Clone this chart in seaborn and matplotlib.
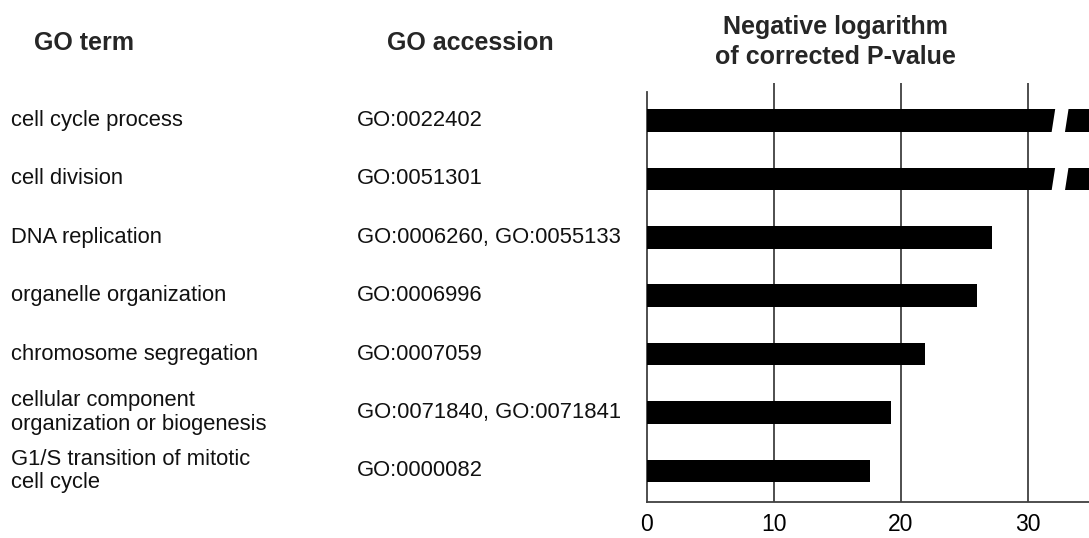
import numpy as np
import pandas as pd
import matplotlib
matplotlib.use("Agg")
import matplotlib.pyplot as plt
import matplotlib.transforms as mtransforms
from matplotlib.patches import Polygon
import seaborn as sns

# ---- data ----
go_terms = [
    "cell cycle process",
    "cell division",
    "DNA replication",
    "organelle organization",
    "chromosome segregation",
    "cellular component\norganization or biogenesis",
    "G1/S transition of mitotic\ncell cycle",
]
go_accessions = [
    "GO:0022402",
    "GO:0051301",
    "GO:0006260, GO:0055133",
    "GO:0006996",
    "GO:0007059",
    "GO:0071840, GO:0071841",
    "GO:0000082",
]
neg_log_p = [40.0, 40.0, 27.2, 26.0, 21.9, 19.2, 17.6]  # first two are off-scale (broken bars)
broken = [True, True, False, False, False, False, False]
x_ticks = [0, 10, 20, 30]

header_term = "GO term"
header_acc = "GO accession"
header_val = "Negative logarithm\nof corrected P-value"

df = pd.DataFrame({"term": go_terms, "acc": go_accessions, "value": neg_log_p})

# ---- style ----
sns.set_style("white")
plt.rcParams["font.family"] = ["Liberation Sans", "DejaVu Sans"]

W, H = 1089, 538
fig = plt.figure(figsize=(W / 100, H / 100), dpi=100)

ax_left, ax_right = 646.7, 1089.0
ax_top, ax_bottom = 83.0, 502.3
ax = fig.add_axes([ax_left / W, 1 - ax_bottom / H, (ax_right - ax_left) / W, (ax_bottom - ax_top) / H])

sns.barplot(data=df, y="term", x="value", orient="h", color="black",
            width=0.39, ax=ax, saturation=1, edgecolor="none", zorder=3)

px_per_unit = 12.7
ax.set_xlim(0, (ax_right - ax_left) / px_per_unit)
row_px = 58.4
first_center = 120.5
ax.set_ylim((ax_bottom - first_center) / row_px, (ax_top - first_center) / row_px)

ax.set_xticks(x_ticks)
ax.set_xticklabels([str(t) for t in x_ticks], fontsize=16.5)
ax.tick_params(axis="x", length=0, pad=7.5, colors="black")
ax.set_yticks([])
ax.set_xlabel("")
ax.set_ylabel("")

ax.set_axisbelow(True)
ax.grid(axis="x", color="#404040", linewidth=1.3)
ax.grid(axis="y", visible=False)
ax.xaxis.grid(True)
gl = ax.get_xgridlines()
gl[0].set_visible(False)

for side in ["top", "right"]:
    ax.spines[side].set_visible(False)
ax.spines["left"].set_color("#404040")
ax.spines["left"].set_linewidth(1.3)
ax.spines["left"].set_bounds((ax_bottom - first_center) / row_px, (92 - first_center) / row_px)
ax.spines["bottom"].set_color("#404040")
ax.spines["bottom"].set_linewidth(1.3)

# break marks on off-scale bars
for patch, is_broken in zip(ax.patches, broken):
    if not is_broken:
        continue
    y0 = patch.get_y()
    y1 = y0 + patch.get_height()
    pad = 0.05
    top_y, bot_y = min(y0, y1) - pad, max(y0, y1) + pad
    poly = Polygon([(32.2, top_y), (33.25, top_y), (32.9, bot_y), (31.85, bot_y)],
                   closed=True, facecolor="white", edgecolor="none", zorder=4)
    ax.add_patch(poly)

# column texts
trans = mtransforms.blended_transform_factory(fig.transFigure, ax.transData)
for i, (term, acc) in enumerate(zip(go_terms, go_accessions)):
    fig.text(11 / W, i, term, transform=trans, ha="left", va="center",
             fontsize=15.8, color="#111111", linespacing=1.14)
    fig.text(357 / W, i, acc, transform=trans, ha="left", va="center",
             fontsize=15.8, color="#111111")

# headers
hy = 1 - 42.5 / H
fig.text(84.5 / W, hy, header_term, ha="center", va="center", fontsize=18, fontweight="bold")
fig.text(470.5 / W, hy, header_acc, ha="center", va="center", fontsize=18, fontweight="bold")
fig.text(835 / W, 1 - 42 / H, header_val, ha="center", va="center", fontsize=18,
         fontweight="bold", linespacing=1.35)

fig.savefig("out.png", dpi=100, facecolor="white")
